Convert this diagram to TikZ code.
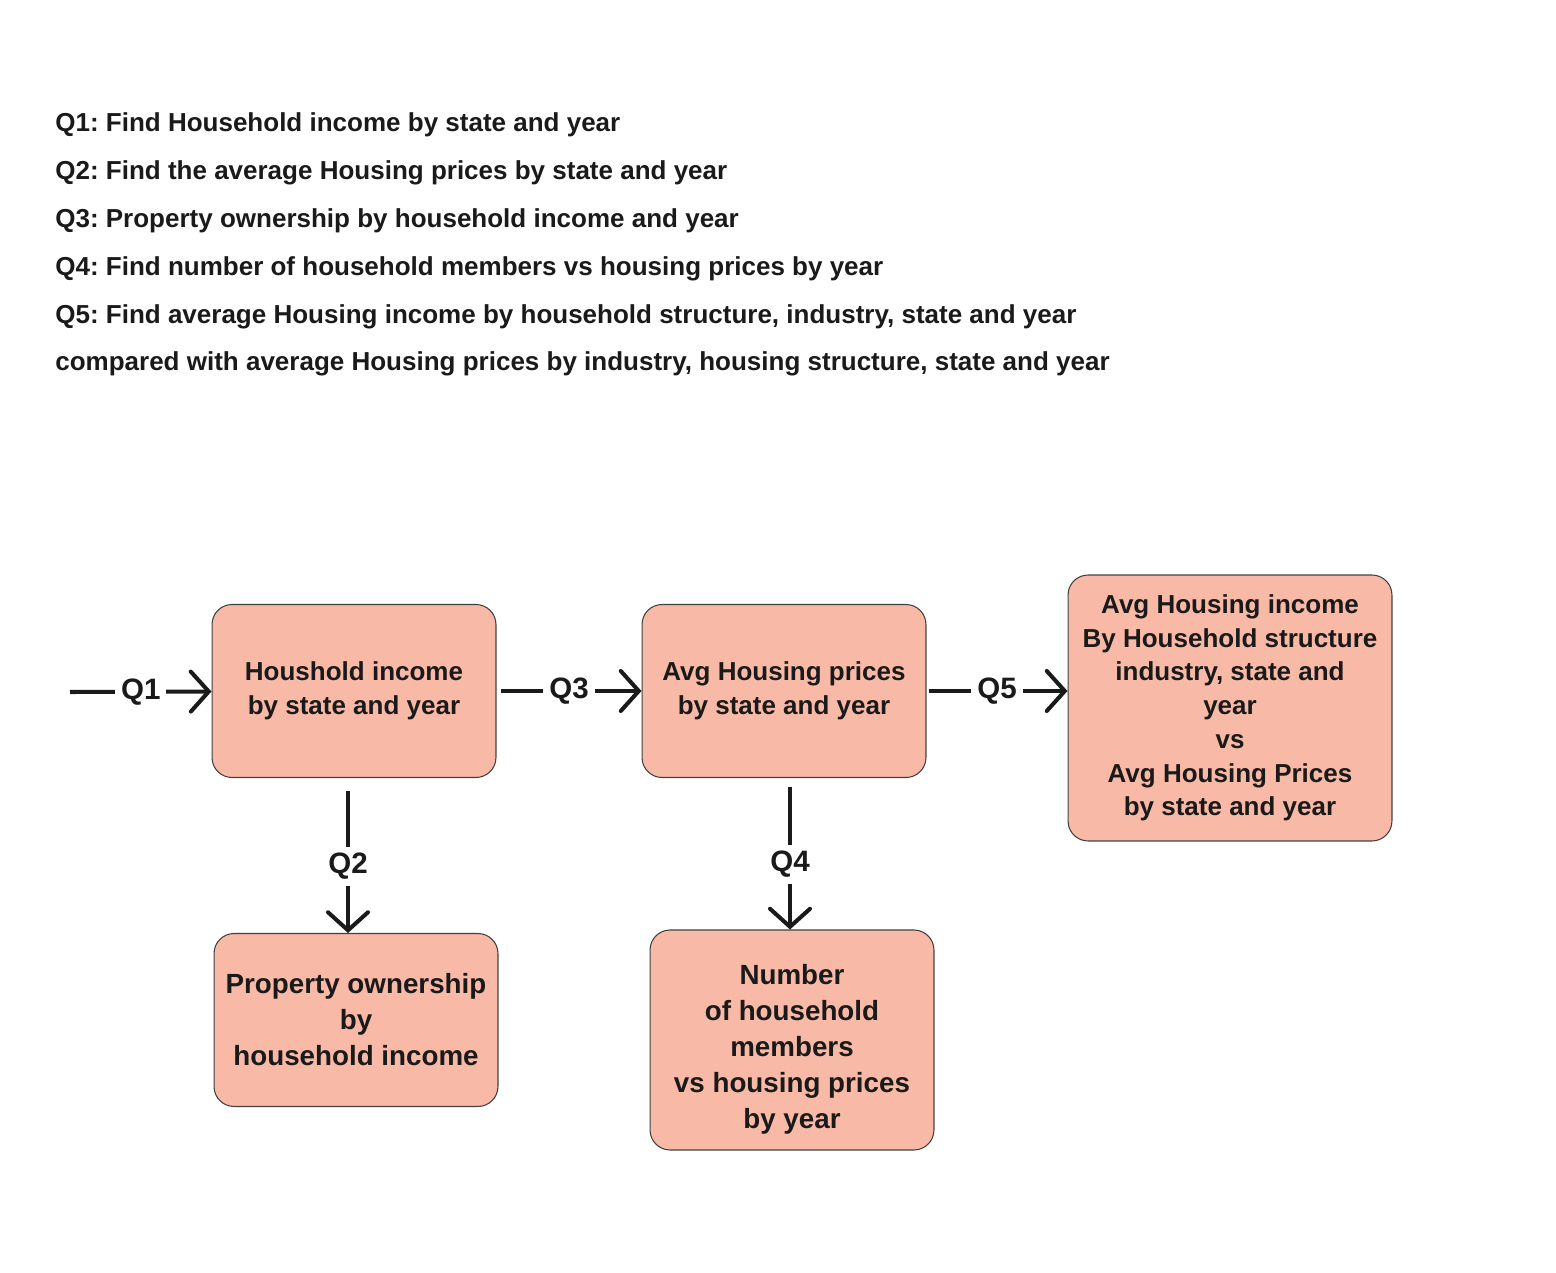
\documentclass[tikz,border=0pt]{standalone}
\usepackage{fontspec}
\setmainfont{Liberation Sans}
\usepackage{xcolor}
\usetikzlibrary{arrows.meta}
\definecolor{boxfill}{HTML}{F8B9A6}
\definecolor{ink}{HTML}{1A1A1A}
\frenchspacing
\begin{document}
\begin{tikzpicture}[x=0.02cm,y=-0.02cm]
      \useasboundingbox(0,0) rectangle (1556,1273);
      \tikzset{B/.style = {draw=black!75, line width=0.6pt, fill=boxfill, rounded corners=0.4cm, align=center, text=ink, inner sep=0pt}}
      \tikzset{E/.style = {draw=ink, line width=2.3pt, -{Straight Barb[length=0.36cm,width=0.8cm,line cap=round]}}}
      \tikzset{L/.style = {fill=white, text=ink, font=\fontsize{16.8}{20}\bfseries, inner sep=0.12cm}}
      % questions
      \node[anchor=base west, align=left, inner sep=0pt, text=ink, font=\fontsize{14.8}{27.3}\bfseries](qs) at (55,371) {Q1: Find Household income by state and year\\
        Q2: Find the average Housing prices by state and year\\
        Q3: Property ownership by household income and year\\
        Q4: Find number of household members vs housing prices by year\\
        Q5: Find average Housing income by household structure, industry, state and year\\
        compared with average Housing prices by industry, housing structure, state and year};
      % boxes
      \node[B, minimum width=5.68cm, minimum height=3.46cm, font=\fontsize{14.8}{19.3}\bfseries](hh) at (354,691) {Houshold income\\by state and year};
      \node[B, minimum width=5.68cm, minimum height=3.46cm, font=\fontsize{14.8}{19.3}\bfseries](ap) at (784,691) {Avg Housing prices\\by state and year};
      \node[B, minimum width=6.48cm, minimum height=5.32cm, font=\fontsize{14.8}{19.2}\bfseries](av) at (1230,708) {Avg Housing income\\By Household structure\\industry, state and\\year\\vs\\Avg Housing Prices\\by state and year};
      \node[B, minimum width=5.68cm, minimum height=3.46cm, font=\fontsize{15.8}{20.5}\bfseries](po) at (356,1020) {Property ownership\\by\\household income};
      \node[B, minimum width=5.68cm, minimum height=4.4cm, font=\fontsize{15.8}{20.5}\bfseries](nm) at (792,1040) {\rule{0pt}{22pt}Number\\of household\\members\\vs housing prices\\by year};
      \coordinate (in) at (70,692);
      % arrows
      \draw[E](in) to node[L]{Q1} (hh);
      \draw[E,shorten <=0.08cm](hh) to node[L]{Q3} (ap);
      \draw[E,shorten <=0.04cm](ap.east) to node[L]{Q5} (ap.east -| av.west);
      \draw[E,shorten <=0.26cm]([xshift=-0.12cm]hh.south) to node[L,pos=0.57]{Q2} ([xshift=-0.12cm]hh.south |- po.north);
      \draw[E,shorten <=0.18cm]([xshift=0.12cm]ap.south) to node[L,pos=0.57]{Q4} ([xshift=0.12cm]ap.south |- nm.north);
      \end{tikzpicture}
\end{document}
